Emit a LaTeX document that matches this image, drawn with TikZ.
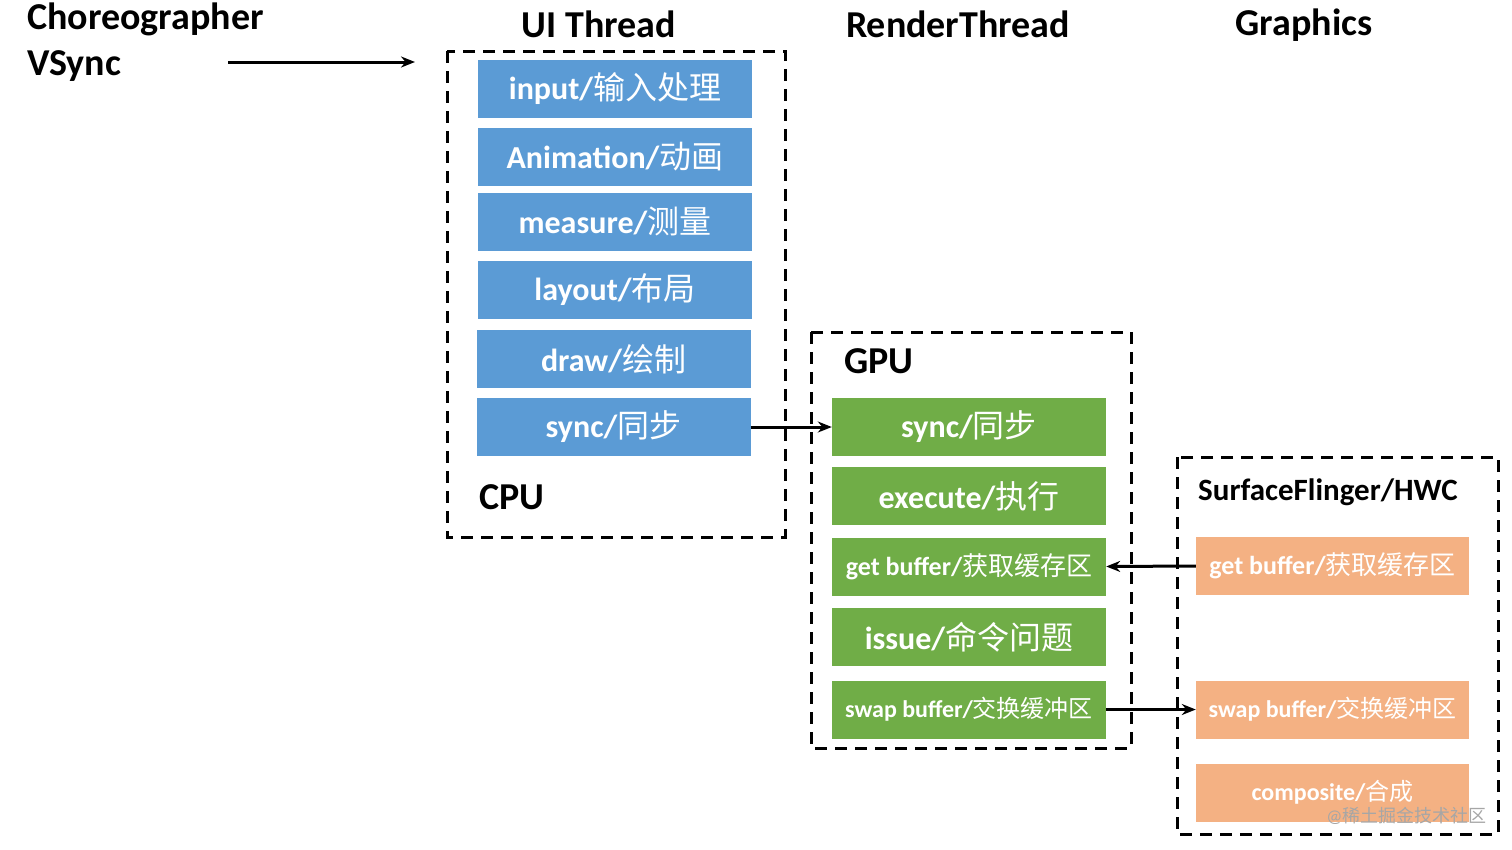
\documentclass[tikz,border=0pt]{standalone}
\usepackage{fontspec}
\setmainfont{Carlito}
\newfontfamily\cjk{Noto Sans CJK SC}
\usetikzlibrary{arrows.meta}
\definecolor{bblue}{HTML}{5B9BD5}
\definecolor{ggreen}{HTML}{70AD47}
\definecolor{oorange}{HTML}{F4B183}
\newcommand{\zh}[1]{{\cjk\mdseries #1}}
\tikzset{
  box/.style={rectangle, inner sep=0pt, minimum width=274pt, minimum height=58pt, text=white, font=\fontsize{32}{36}\selectfont\bfseries},
  bbox/.style={box, fill=bblue},
  gbox/.style={box, fill=ggreen},
  obox/.style={box, fill=oorange, minimum width=273pt},
  small/.style={font=\fontsize{26}{30}\selectfont\bfseries},
  smaller/.style={font=\fontsize{24}{28}\selectfont\bfseries},
  frame/.style={draw=black, line width=3pt, dash pattern=on 12pt off 8pt},
  title/.style={inner sep=0pt, font=\fontsize{38}{42}\selectfont\bfseries},
  conn/.style={line width=3pt, -{Stealth[length=14pt,width=11pt]}},
}
\begin{document}
\begin{tikzpicture}[x=1pt,y=-1pt]
\useasboundingbox (0,0) rectangle (1512,849);
% titles
\node[title, anchor=west] (chor) at (27,19) {Choreographer};
\node[title, anchor=west] (vsync) at (27,66) {VSync};
\node[title] (uit) at (599,24) {UI Thread};
\node[title] (rt) at (958,24) {RenderThread};
\node[title] (gr) at (1304,25) {Graphics};
% frames
\draw[frame] (447,51) rectangle (785,537);
\draw[frame] (811,332) rectangle (1131,748);
\draw[frame] (1177,457) rectangle (1498,834);
\coordinate (vs1) at (228,62);
\coordinate (vs2) at (415,62);
\draw[conn] (vs1) -- (vs2);
% CPU boxes
\node[bbox] (b1) at (615,89) {input/\zh{输入处理}};
\node[bbox] (b2) at (615,156.5) {Animation/\zh{动画}};
\node[bbox] (b3) at (615,221.5) {measure/\zh{测量}};
\node[bbox] (b4) at (615,290) {layout/\zh{布局}};
\node[bbox] (b5) at (613.5,359) {draw/\zh{绘制}};
\node[bbox] (b6) at (613.5,427) {sync/\zh{同步}};
\node[title, anchor=west] (cpu) at (479,497) {CPU};
% GPU
\node[title, anchor=west] (gpu) at (844,361) {GPU};
\node[gbox] (g1) at (969,427) {sync/\zh{同步}};
\node[gbox] (g2) at (969,496) {execute/\zh{执行}};
\node[gbox, small] (g3) at (969,566.5) {get buffer/\zh{获取缓存区}};
\node[gbox] (g4) at (969,637) {issue/\zh{命令问题}};
\node[gbox, smaller] (g5) at (969,709.5) {swap buffer/\zh{交换缓冲区}};
% SurfaceFlinger
\node[title, anchor=west, font=\fontsize{31}{36}\selectfont\bfseries] (sf) at (1198,492) {SurfaceFlinger/HWC};
\node[obox, small] (o1) at (1332.5,566) {get buffer/\zh{获取缓存区}};
\node[obox, smaller] (o2) at (1332.5,709.5) {swap buffer/\zh{交换缓冲区}};
\node[obox, smaller] (o3) at (1332.5,792.5) {composite/\zh{合成}};
% connectors
\draw[conn] (b6.east) -- (g1.west);
\draw[conn] (o1.west) -- (g3.east);
\draw[conn] (g5.east) -- (o2.west);
% watermark
\node[text=gray!70, font=\fontsize{18}{20}\selectfont, anchor=east] (wm) at (1490,816) {@\zh{稀土掘金技术社区}};
\end{tikzpicture}
\end{document}
